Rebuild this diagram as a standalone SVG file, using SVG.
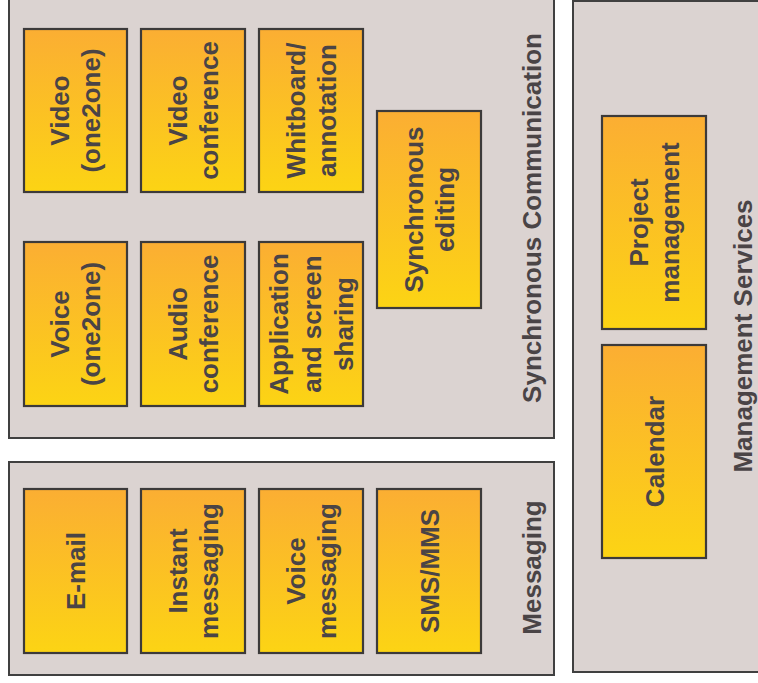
<svg xmlns="http://www.w3.org/2000/svg" width="758" height="683" viewBox="0 0 758 683">
<defs>
<linearGradient id="g" x1="0" y1="0" x2="0" y2="1">
<stop offset="0" stop-color="#fbae33"/>
<stop offset="1" stop-color="#fcd414"/>
</linearGradient>
<style>
.panel{fill:#dbd3d1;stroke:#404040;stroke-width:2}
.box{fill:url(#g);stroke:#3c3a3a;stroke-width:2.2}
text{font-family:"Liberation Sans",Arial,sans-serif;font-weight:bold;font-size:26px;fill:#4a4446;text-anchor:middle}
</style>
</defs>
<rect width="758" height="683" fill="#ffffff"/>
<g id="panel-sync">
<rect class="panel" x="9" y="-5" width="545" height="443"/>
<text transform="translate(541,218) rotate(-90)">Synchronous Communication</text>
</g>
<g id="panel-messaging">
<rect class="panel" x="9" y="462" width="545" height="213"/>
<text transform="translate(541,567.5) rotate(-90)">Messaging</text>
</g>
<g id="panel-management">
<rect class="panel" x="573" y="1" width="195" height="671"/>
<text transform="translate(752,336) rotate(-90)">Management Services</text>
</g>
<g id="video-one2one">
<rect class="box" x="24" y="29" width="103" height="163"/>
<text transform="translate(75.5,110.5) rotate(-90)"><tspan x="0" y="-6.5">Video</tspan><tspan x="0" y="24.5">(one2one)</tspan></text>
</g>
<g id="video-conference">
<rect class="box" x="141" y="29" width="104" height="163"/>
<text transform="translate(193,110.5) rotate(-90)"><tspan x="0" y="-6.5">Video</tspan><tspan x="0" y="24.5">conference</tspan></text>
</g>
<g id="whiteboard">
<rect class="box" x="259" y="29" width="104" height="163"/>
<text transform="translate(311,110.5) rotate(-90)"><tspan x="0" y="-6.5">Whitboard/</tspan><tspan x="0" y="24.5">annotation</tspan></text>
</g>
<g id="synchronous-editing">
<rect class="box" x="377" y="111" width="104" height="197"/>
<text transform="translate(429,209.5) rotate(-90)"><tspan x="0" y="-6.5">Synchronous</tspan><tspan x="0" y="24.5">editing</tspan></text>
</g>
<g id="voice-one2one">
<rect class="box" x="24" y="242" width="103" height="164"/>
<text transform="translate(75.5,324) rotate(-90)"><tspan x="0" y="-6.5">Voice</tspan><tspan x="0" y="24.5">(one2one)</tspan></text>
</g>
<g id="audio-conference">
<rect class="box" x="141" y="242" width="104" height="164"/>
<text transform="translate(193,324) rotate(-90)"><tspan x="0" y="-6.5">Audio</tspan><tspan x="0" y="24.5">conference</tspan></text>
</g>
<g id="app-sharing">
<rect class="box" x="259" y="242" width="104" height="164"/>
<text transform="translate(311,324) rotate(-90)"><tspan x="0" y="-23">Application</tspan><tspan x="0" y="9.5">and screen</tspan><tspan x="0" y="42">sharing</tspan></text>
</g>
<g id="email">
<rect class="box" x="24" y="489" width="103" height="164"/>
<text transform="translate(75.5,571) rotate(-90)"><tspan x="0" y="9.5">E-mail</tspan></text>
</g>
<g id="instant-messaging">
<rect class="box" x="141" y="489" width="104" height="164"/>
<text transform="translate(193,571) rotate(-90)"><tspan x="0" y="-6.5">Instant</tspan><tspan x="0" y="24.5">messaging</tspan></text>
</g>
<g id="voice-messaging">
<rect class="box" x="259" y="489" width="104" height="164"/>
<text transform="translate(311,571) rotate(-90)"><tspan x="0" y="-6.5">Voice</tspan><tspan x="0" y="24.5">messaging</tspan></text>
</g>
<g id="sms-mms">
<rect class="box" x="377" y="489" width="104" height="164"/>
<text transform="translate(429,571) rotate(-90)"><tspan x="0" y="9.5">SMS/MMS</tspan></text>
</g>
<g id="project-management">
<rect class="box" x="602" y="116" width="104" height="213"/>
<text transform="translate(654,222.5) rotate(-90)"><tspan x="0" y="-6.5">Project</tspan><tspan x="0" y="24.5">management</tspan></text>
</g>
<g id="calendar">
<rect class="box" x="602" y="345" width="104" height="213"/>
<text transform="translate(654,451.5) rotate(-90)"><tspan x="0" y="9.5">Calendar</tspan></text>
</g>
<g id="connectors"/>
</svg>
